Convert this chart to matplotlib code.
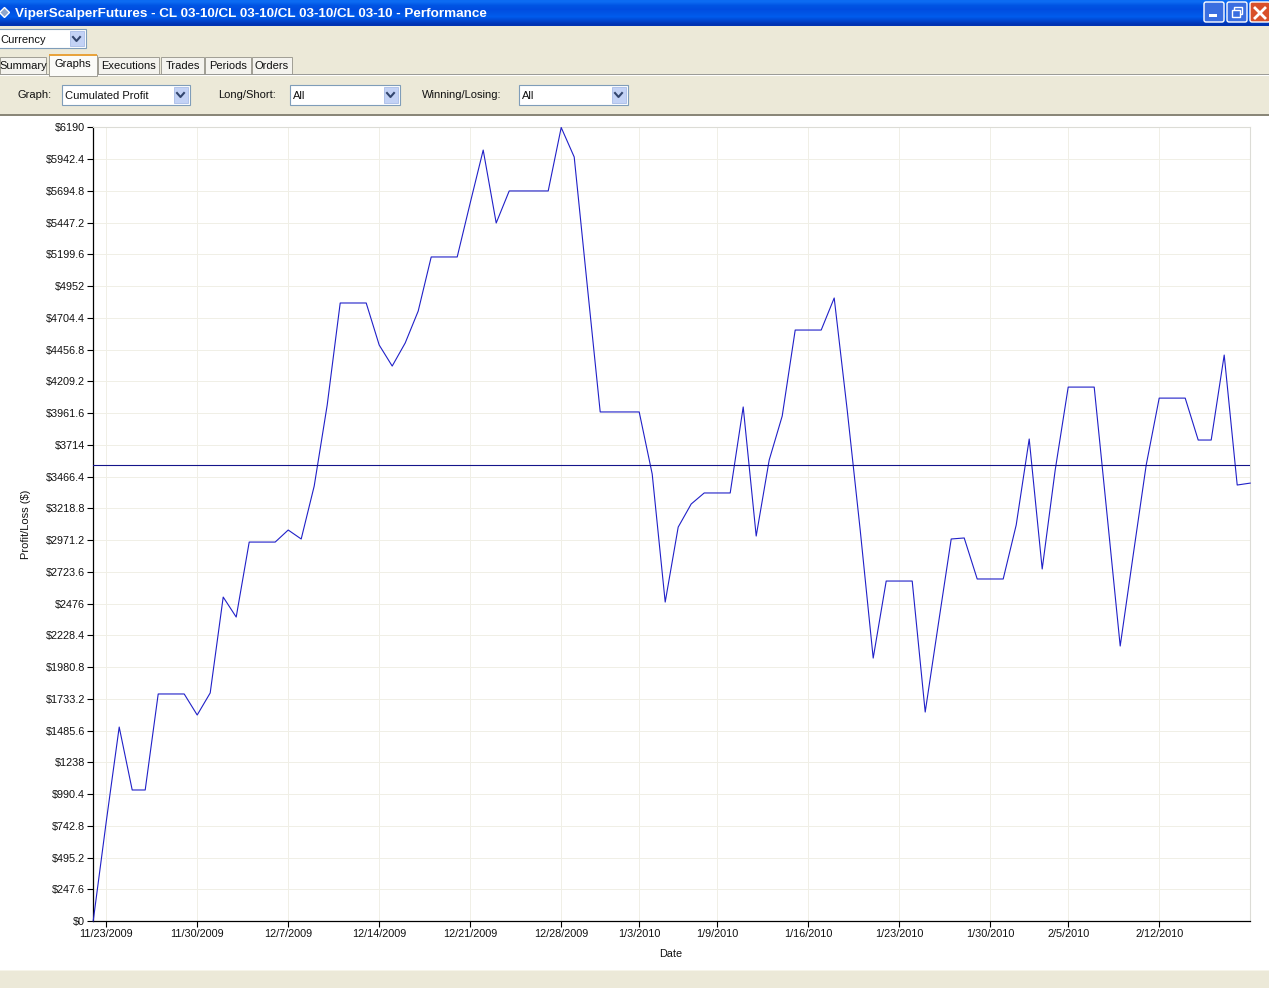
import matplotlib
matplotlib.use('Agg')
import matplotlib.pyplot as plt
from matplotlib.patches import Rectangle, FancyBboxPatch
import numpy as np

plt.rcParams['font.family'] = ['Liberation Sans', 'DejaVu Sans']

# cumulated profit, one value per session
profit = [0, 772, 1513, 1022, 1022, 1771, 1771, 1771, 1607, 1779,
          2527, 2371, 2956, 2956, 2956, 3050, 2980, 3393, 4025, 4821,
          4821, 4821, 4493, 4329, 4509, 4758, 5180, 5180, 5180, 5601,
          6014, 5445, 5695, 5695, 5695, 5695, 6190, 5960, 4961, 3971,
          3971, 3971, 3971, 3487, 2488, 3073, 3253, 3339, 3339, 3339,
          4010, 3003, 3596, 3939, 4610, 4610, 4610, 4860, 3986, 3050,
          2051, 2652, 2652, 2652, 1630, 2309, 2980, 2988, 2668, 2668,
          2668, 3089, 3760, 2746, 3518, 4165, 4165, 4165, 3159, 2145,
          2855, 3557, 4079, 4079, 4079, 3752, 3752, 4415, 3401, 3416]
average_profit = 3558

date_pos = [1, 8, 15, 22, 29, 36, 42, 48, 55, 62, 69, 75, 82]
date_labels = ['11/23/2009', '11/30/2009', '12/7/2009', '12/14/2009', '12/21/2009',
               '12/28/2009', '1/3/2010', '1/9/2010', '1/16/2010', '1/23/2010',
               '1/30/2010', '2/5/2010', '2/12/2010']
y_ticks = [0, 247.6, 495.2, 742.8, 990.4, 1238, 1485.6, 1733.2, 1980.8, 2228.4,
           2476, 2723.6, 2971.2, 3218.8, 3466.4, 3714, 3961.6, 4209.2, 4456.8,
           4704.4, 4952, 5199.6, 5447.2, 5694.8, 5942.4, 6190]
tabs = ['Summary', 'Executions', 'Trades', 'Periods', 'Orders']
tab_left = [0, 98, 161, 205, 252]
tab_right = [46, 159, 204, 251, 292]

W, H = 1269, 988
fig = plt.figure(figsize=(W / 100, H / 100), dpi=100, facecolor='white')

# window chrome, in pixel coordinates
ui = fig.add_axes([0, 0, 1, 1], zorder=0)
ui.set_xlim(0, W)
ui.set_ylim(H, 0)
ui.axis('off')
panel = '#ece9d8'
ui.add_patch(Rectangle((0, 26), W, 89, fc=panel, ec='none'))
ui.add_patch(Rectangle((0, 114), W, 2, fc='#8a8778', ec='none'))
ui.add_patch(Rectangle((0, 971), W, 17, fc=panel, ec='none'))
ui.plot([0, W], [970, 970], color='#f6f4ea', lw=0.7)
ui.plot([0, W], [74.5, 74.5], color='#9a9a96', lw=0.7)
ui.plot([0, W], [75.5, 75.5], color='white', lw=0.7)
grad = np.array([[0.05, 0.42, 0.95], [0.0, 0.33, 0.89], [0.0, 0.30, 0.88], [0.0, 0.33, 0.90],
                 [0.0, 0.36, 0.93], [0.0, 0.28, 0.82], [0.0, 0.20, 0.70]]).reshape(-1, 1, 3)
ui.imshow(grad, extent=(0, W, 26, 0), aspect='auto', interpolation='bilinear')
ui.set_xlim(0, W)
ui.set_ylim(H, 0)
ui.text(15, 13.5, 'ViperScalperFutures - CL 03-10/CL 03-10/CL 03-10/CL 03-10 - Performance',
        color='white', fontsize=9.7, fontweight='bold', va='center', ha='left')
ui.plot([4], [12], marker='D', ms=5, mfc='#8fa6cc', mec='white', mew=1)


def win_button(x, color):
    ui.add_patch(FancyBboxPatch((x + 1, 3), 18, 18, boxstyle='round,pad=1,rounding_size=2',
                                fc=color, ec='white', lw=1))


win_button(1204, '#3a6ee0')
win_button(1227, '#3a6ee0')
win_button(1250, '#d8502a')
ui.add_patch(Rectangle((1208.5, 14.5), 8, 3, fc='white', ec='none'))
ui.add_patch(Rectangle((1234, 7), 8, 7, fc='none', ec='white', lw=1))
ui.add_patch(Rectangle((1232, 10), 8, 7, fc='#3a6ee0', ec='white', lw=1))
ui.plot([1255, 1265], [8, 18], color='white', lw=2)
ui.plot([1255, 1265], [18, 8], color='white', lw=2)


def combo(x0, x1, y0, y1, label):
    ui.add_patch(Rectangle((x0, y0), x1 - x0, y1 - y0, fc='white', ec='#7f9db9', lw=0.8))
    ui.add_patch(Rectangle((x1 - 16, y0 + 2), 14, y1 - y0 - 4, fc='#c3d2f5', ec='#a8bce8', lw=0.6))
    ui.plot([x1 - 12.5, x1 - 9, x1 - 5.5], [y0 + 8, y0 + 12, y0 + 8], color='#33466e', lw=1.5)
    ui.text(x0 + 3.5, (y0 + y1) / 2 + 1, label, fontsize=8, va='center', ha='left', color='#111111')


combo(-3, 85.5, 29, 48.5, 'Currency')
combo(61.5, 189.5, 85, 105, 'Cumulated Profit')
combo(289.5, 399.5, 85, 105, 'All')
combo(518.5, 627.5, 85, 105, 'All')
ui.text(17, 94.5, 'Graph:', fontsize=8, va='center', color='#111111')
ui.text(218, 94.5, 'Long/Short:', fontsize=8, va='center', color='#111111')
ui.text(422, 94.5, 'Winning/Losing:', fontsize=8, va='center', color='#111111')

for x0, x1, name in zip(tab_left, tab_right, tabs):
    ui.add_patch(Rectangle((x0, 57), x1 - x0, 17.5, fc='#f4f3ee', ec='#a09e94', lw=0.7))
    ui.text((x0 + x1) / 2, 66, name, fontsize=8, ha='center', va='center', color='#111111')
# the selected tab sits a little higher
ui.add_patch(Rectangle((49, 55), 48, 21, fc='#fbfbf8', ec='#a09e94', lw=0.7, zorder=3))
ui.add_patch(Rectangle((49, 54), 48, 2.5, fc='#e8a33c', ec='none', zorder=4))
ui.text(73, 64, 'Graphs', fontsize=8, ha='center', va='center', zorder=5, color='#111111')

# the chart itself
left, right, top, bottom = 93.2, 1250.2, 127.5, 921
ax = fig.add_axes([left / W, 1 - bottom / H, (right - left) / W, (bottom - top) / H], zorder=1)
ax.set_facecolor('white')
x = np.arange(len(profit))
ax.plot(x, profit, color='#2020c8', lw=0.8, zorder=3, clip_on=False)
ax.axhline(average_profit, color='#14148a', lw=0.8, zorder=3)
ax.set_xlim(0, 89)
ax.set_ylim(0, 6190)
ax.set_xticks(date_pos)
ax.set_xticklabels(date_labels)
ax.set_yticks(y_ticks)
ax.set_yticklabels(['$%g' % v for v in y_ticks])
ax.grid(True, color='#f0efe6', lw=0.7)
ax.set_axisbelow(True)
ax.tick_params(axis='both', labelsize=7.8, length=4.5, width=0.8, color='black', labelcolor='#111111', pad=1.5)
ax.tick_params(axis='x', pad=1)
ax.spines['top'].set_color('#dcdcd6')
ax.spines['right'].set_color('#dcdcd6')
ax.spines['left'].set_color('black')
ax.spines['bottom'].set_color('black')
ax.spines['left'].set_linewidth(0.9)
ax.spines['bottom'].set_linewidth(0.9)
ax.set_xlabel('Date', fontsize=7.8, color='#111111')
ax.set_ylabel('Profit/Loss ($)', fontsize=8, color='#111111')
ax.yaxis.set_label_coords((26 - left) / (right - left), (bottom - 524) / (bottom - top))
ax.xaxis.set_label_coords((671 - left) / (right - left), -(954 - bottom) / (bottom - top))
ax.xaxis.label.set_va('center')
ax.yaxis.label.set_va('center')

fig.savefig('out.png', dpi=100, facecolor='white')
